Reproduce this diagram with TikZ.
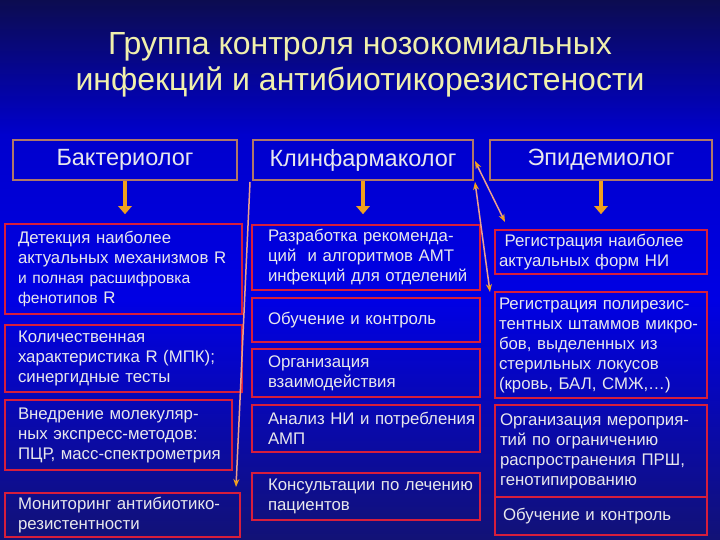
\documentclass[tikz,border=0pt]{standalone}
\usepackage{fontspec}
\setmainfont{Liberation Sans}
\usetikzlibrary{arrows.meta}
\definecolor{bgtop}{RGB}{12,12,80}
\definecolor{bgup}{RGB}{0,0,205}
\definecolor{bgmid}{RGB}{0,0,228}
\definecolor{bgbot}{RGB}{18,18,118}
\definecolor{txt}{RGB}{232,232,236}
\definecolor{ttl}{RGB}{240,240,172}
\definecolor{boxred}{RGB}{215,30,60}
\definecolor{hdrbrd}{RGB}{176,120,104}
\definecolor{orng}{RGB}{240,160,30}
\definecolor{salmon}{RGB}{236,160,140}
\tikzset{
  hbox/.style={draw=hdrbrd, line width=2.5pt, minimum width=#1, minimum height=40pt,
    text=txt, font=\fontsize{23.5}{27}\selectfont, inner sep=0pt},
  rbox/.style n args={3}{draw=boxred, line width=1.4pt, minimum width=#1, minimum height=#2,
    inner xsep=1pt, text width=#1-2pt, align=left, text=txt,
    execute at begin node={\leftskip=#3\relax},
    font=\fontsize{16.8}{20}\selectfont, inner ysep=0pt},
  bigarrow/.style={draw=orng, line width=4pt, -{Triangle[width=13pt,length=8pt]}},
  thinarrow/.style={draw=salmon, line width=1.5pt, arrows={-Stealth[length=8pt,width=6pt,color=orng]}},
  thinboth/.style={draw=salmon, line width=1.5pt, arrows={Stealth[length=8pt,width=6pt,color=orng]-Stealth[length=8pt,width=6pt,color=orng]}}
}
\newcommand{\smtxt}{\fontsize{15.6}{20}\selectfont}
\begin{document}
\begin{tikzpicture}[x=1pt,y=-1pt]
\useasboundingbox (0,0) rectangle (720,540);
\shade[top color=bgtop, bottom color=bgup] (0,0) rectangle (720,135.5);
\shade[top color=bgup, bottom color=bgmid] (0,135) rectangle (720,300.5);
\shade[top color=bgmid, bottom color=bgbot] (0,300) rectangle (720,540);

\node[text=ttl, align=center, font=\fontsize{32}{36}\selectfont] (title) at (360,65)
  {Группа контроля нозокомиальных\\инфекций и антибиотикорезистености};

\node[hbox=224pt] (h1) at (125,160) {Бактериолог};
\node[hbox=220pt] (h2) at (363,160) {Клинфармаколог};
\node[hbox=222pt] (h3) at (601,160) {Эпидемиолог};

% column 1
\node[rbox={237pt}{90pt}{12pt}] (c1a) at (123.5,269)
  {Детекция наиболее\\актуальных механизмов R\\{\smtxt и полная расшифровка}\\{\smtxt фенотипов} R};
\node[rbox={237pt}{67pt}{12pt}] (c1b) at (123.5,358.5)
  {Количественная\\характеристика R (МПК);\\синергидные тесты};
\node[rbox={227pt}{70pt}{12pt}] (c1c) at (118.5,435)
  {Внедрение молекуляр-\\ных экспресс-методов:\\ПЦР, масс-спектрометрия};
\node[rbox={235pt}{44pt}{12pt}] (c1d) at (122.5,515)
  {Мониторинг антибиотико-\\резистентности};

% column 2
\node[rbox={228pt}{65pt}{15pt}] (c2a) at (366,257.5)
  {Разработка рекоменда-\\ций~ и алгоритмов АМТ\\инфекций для отделений};
\node[rbox={228pt}{44pt}{15pt}] (c2b) at (366,320)
  {Обучение и контроль};
\node[rbox={228pt}{48pt}{15pt}] (c2c) at (366,373)
  {Организация\\взаимодействия};
\node[rbox={228pt}{47pt}{15pt}] (c2d) at (366,428.5)
  {Анализ НИ и потребления\\АМП};
\node[rbox={228pt}{47pt}{15pt}] (c2e) at (366,496.5)
  {Консультации по лечению\\пациентов};

% column 3
\node[rbox={212pt}{44pt}{3pt}] (c3a) at (601,252)
  {\ Регистрация наиболее\\актуальных форм НИ};
\node[rbox={212pt}{106pt}{3pt}] (c3b) at (601,345)
  {Регистрация полирезис-\\тентных штаммов микро-\\бов, выделенных из\\стерильных локусов\\(кровь, БАЛ, СМЖ,…)};
\node[rbox={212pt}{92pt}{4pt}] (c3c) at (601,451)
  {Организация мероприя-\\тий по ограничению\\распространения ПРШ,\\генотипированию};
\node[rbox={212pt}{38pt}{7pt}] (c3d) at (601,516)
  {Обучение и контроль};

% thick arrows
\draw[bigarrow] (h1.south) -- ++(0,33);
\draw[bigarrow] (h2.south) -- ++(0,33);
\draw[bigarrow] (h3.south) -- ++(0,33);

% thin arrows
\coordinate (e1) at (236,487);
\coordinate (e2) at (505,222);
\coordinate (e3) at (490,292);
\coordinate (s1) at (250,182);
\coordinate (s2) at (475,161);
\coordinate (s3) at (475,182);
\draw[thinarrow] (s1) -- (e1);
\draw[thinboth] (s2) -- (e2);
\draw[thinboth] (s3) -- (e3);
\end{tikzpicture}
\end{document}
